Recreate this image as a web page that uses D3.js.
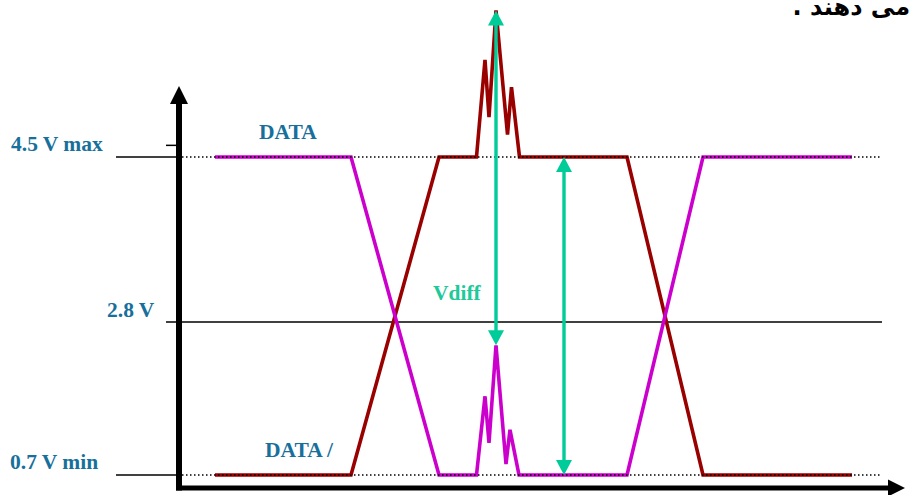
<!DOCTYPE html>
<html>
<head>
<meta charset="utf-8">
<script src="https://cdn.jsdelivr.net/npm/d3@7"></script>
<style>
  html, body { margin: 0; padding: 0; background: #fff; }
  svg { display: block; }
</style>
</head>
<body>
<svg id="chart" width="917" height="495"></svg>
<script>
// ---------------- data ----------------
const levelValues = [4.5, 2.8, 0.7];
const levelLabels = ["4.5 V max", "2.8 V", "0.7 V min"];
const markerTick = [4.62];

// DATA (magenta) signal: time / volts
const dataTime  = [7, 34.2, 51.8, 59.3, 61, 61.8, 63.2, 65.2, 66.0, 67.8, 89.4, 104.6, 134.4];
const dataVolts = [4.5, 4.5, 0.7, 0.7, 1.78, 1.14, 2.48, 0.85, 1.32, 0.7, 0.7, 4.5, 4.5];

// DATA / (dark red) signal
const dataNTime  = [7, 34.2, 51.8, 59.3, 61, 61.8, 63.2, 65.5, 66.3, 67.9, 89.4, 104.6, 134.4];
const dataNVolts = [0.7, 0.7, 4.5, 4.5, 5.5, 4.91, 6.01, 4.73, 5.22, 4.5, 4.5, 0.7, 0.7];

// Vdiff arrows: time, from volts, to volts
const vdiffTime = [63.2, 76.8];
const vdiffFrom = [6.01, 4.5];
const vdiffTo   = [2.48, 0.7];

const seriesNames = ["DATA", "DATA /"];
const vdiffLabel = "Vdiff";
const titleText = "می دهند .";

// ---------------- scales ----------------
const x = d3.scaleLinear().domain([0, 145]).range([180, 905]);
const y = d3.scaleLinear().domain([0.7, 2.8, 4.5]).range([475, 322, 157]);

const svg = d3.select("#chart");
const BLUE = "#17709b", MAG = "#cc00cc", RED = "#990000", GREEN = "#00cc99";
const SERIF = "'Liberation Serif', 'Times New Roman', serif";
const FS = 21.5;

// title (clipped at top as in the reference)
svg.append("text")
  .attr("x", 910).attr("y", 15)
  .attr("direction", "rtl")
  .attr("text-anchor", "start")
  .attr("font-family", "'DejaVu Sans', 'Noto Sans', sans-serif")
  .attr("font-weight", "bold")
  .attr("font-size", 24)
  .attr("fill", "#000")
  .text(titleText);

// level reference lines
const axisX = x(0) - 1;          // y axis position
const axisY = 488;               // x axis position
[levelValues[0], levelValues[2]].forEach(v => {
  svg.append("line")
    .attr("x1", 116).attr("x2", axisX)
    .attr("y1", y(v)).attr("y2", y(v))
    .attr("stroke", "#000").attr("stroke-width", 1.5);
});
markerTick.forEach(v => {
  svg.append("line")
    .attr("x1", 166).attr("x2", axisX)
    .attr("y1", y(v)).attr("y2", y(v))
    .attr("stroke", "#000").attr("stroke-width", 1.5);
});
svg.append("line")
  .attr("x1", 166).attr("x2", x(140.4))
  .attr("y1", y(levelValues[1])).attr("y2", y(levelValues[1]))
  .attr("stroke", "#000").attr("stroke-width", 1.5);

// level labels
const labelX = [11, 107, 10];
const labelDy = [-6, -5, -6];
levelValues.forEach((v, i) => {
  svg.append("text")
    .attr("x", labelX[i]).attr("y", y(v) + labelDy[i])
    .attr("font-family", SERIF).attr("font-weight", "bold")
    .attr("font-size", FS).attr("fill", BLUE)
    .text(levelLabels[i]);
});

// signals
const line = d3.line().x(d => x(d[0])).y(d => y(d[1]));
const magPts = dataTime.map((t, i) => [t, dataVolts[i]]);
const redPts = dataNTime.map((t, i) => [t, dataNVolts[i]]);

svg.append("path").datum(redPts)
  .attr("d", line).attr("fill", "none")
  .attr("stroke", RED).attr("stroke-width", 3.6).attr("stroke-linejoin", "miter");
svg.append("path").datum(magPts)
  .attr("d", line).attr("fill", "none")
  .attr("stroke", MAG).attr("stroke-width", 3.6).attr("stroke-linejoin", "miter");

// dotted level lines on top
[levelValues[0], levelValues[2]].forEach(v => {
  svg.append("line")
    .attr("x1", axisX + 3).attr("x2", x(140.4))
    .attr("y1", y(v)).attr("y2", y(v))
    .attr("stroke", "#000").attr("stroke-width", 1.3)
    .attr("stroke-dasharray", "1.5,2.5");
});

// series labels
svg.append("text")
  .attr("x", x(15.8)).attr("y", y(4.5) - 18)
  .attr("font-family", SERIF).attr("font-weight", "bold")
  .attr("font-size", FS).attr("fill", BLUE)
  .text(seriesNames[0]);
svg.append("text")
  .attr("x", x(17)).attr("y", y(0.7) - 18)
  .attr("font-family", SERIF).attr("font-weight", "bold")
  .attr("font-size", FS).attr("fill", BLUE)
  .text(seriesNames[1]);

// Vdiff arrows
const head = 15, halfW = 8;
vdiffTime.forEach((t, i) => {
  const xp = x(t), y1 = y(vdiffFrom[i]), y2 = y(vdiffTo[i]);
  svg.append("line")
    .attr("x1", xp).attr("x2", xp)
    .attr("y1", y1 + head - 1).attr("y2", y2 - head + 1)
    .attr("stroke", GREEN).attr("stroke-width", 3.4);
  svg.append("path")
    .attr("d", `M${xp},${y1} L${xp - halfW},${y1 + head} L${xp + halfW},${y1 + head} Z`)
    .attr("fill", GREEN);
  svg.append("path")
    .attr("d", `M${xp},${y2} L${xp - halfW},${y2 - head} L${xp + halfW},${y2 - head} Z`)
    .attr("fill", GREEN);
});
svg.append("text")
  .attr("x", 433).attr("y", 300)
  .attr("font-family", SERIF).attr("font-weight", "bold")
  .attr("font-size", FS).attr("fill", "#1ec99a")
  .text(vdiffLabel);

// axes
svg.append("line")
  .attr("x1", axisX).attr("x2", axisX)
  .attr("y1", axisY + 2.5).attr("y2", 100)
  .attr("stroke", "#000").attr("stroke-width", 6);
svg.append("path")
  .attr("d", `M${axisX},86 L${axisX - 9},104 L${axisX + 9},104 Z`)
  .attr("fill", "#000");
svg.append("line")
  .attr("x1", axisX - 3).attr("x2", 890)
  .attr("y1", axisY).attr("y2", axisY)
  .attr("stroke", "#000").attr("stroke-width", 5);
svg.append("path")
  .attr("d", `M905,${axisY} L888,${axisY - 8.5} L888,${axisY + 8.5} Z`)
  .attr("fill", "#000");
</script>
</body>
</html>
